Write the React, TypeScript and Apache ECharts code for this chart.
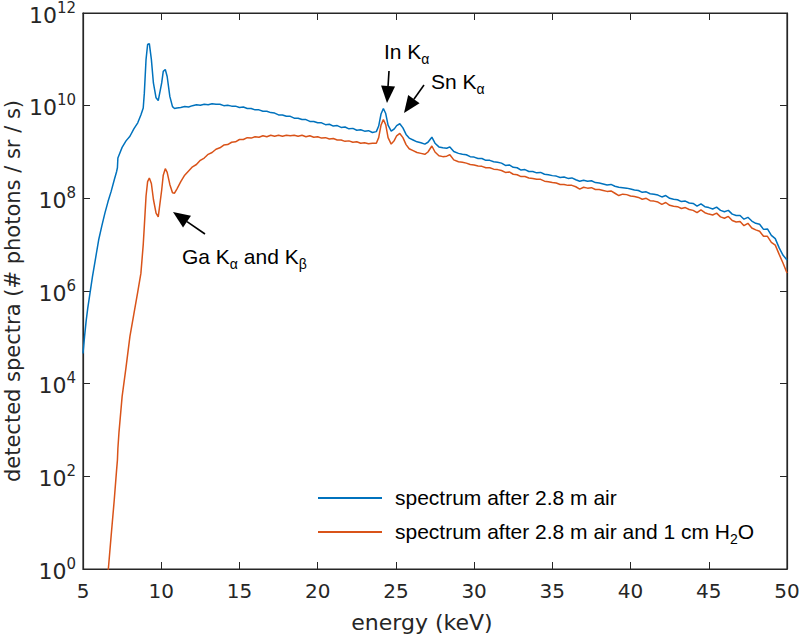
import React, { useEffect, useRef } from "react";
import * as echarts from "echarts";

// ---- data (energy in keV, spectra stored as log10 of photons / sr / s) ----
const energyA = [5.0, 5.1, 5.2, 5.3, 5.45, 5.6, 5.8, 6.0, 6.2, 6.4, 6.6, 6.8, 7.0, 7.15, 7.2, 7.23, 7.3, 7.5, 7.75, 8.0,
  8.25, 8.5, 8.7, 8.85, 8.92, 9.03, 9.13, 9.24, 9.37, 9.5, 9.67, 9.81, 10.03, 10.13, 10.26, 10.38, 10.55, 10.72, 10.85, 11.0];
const airLogA = [4.65, 5.02, 5.35, 5.62, 5.96, 6.3, 6.7, 7.1, 7.4, 7.68, 7.93, 8.15, 8.4, 8.58, 8.66, 8.87, 8.93, 9.1, 9.24, 9.34,
  9.5, 9.63, 9.8, 9.95, 10.27, 11.0, 11.32, 11.34, 11.0, 10.49, 10.17, 10.11, 10.49, 10.74, 10.78, 10.63, 10.2, 9.98, 9.94, 9.95];
const waterLogA = [null, null, null, null, null, null, null, null, null, -0.9, -0.08, 0.72, 1.5, 2.15, 2.35, 2.6, 2.95, 3.72, 4.35, 5.02,
  5.5, 5.98, 6.38, 7.0, 7.4, 8.05, 8.36, 8.44, 8.32, 7.98, 7.68, 7.6, 8.18, 8.5, 8.64, 8.56, 8.3, 8.12, 8.11, 8.2];

const energyB = [11.25, 11.5, 11.75, 12.0, 12.25, 12.5, 12.75, 13.0, 13.25, 13.5,
  13.75, 14.0, 14.25, 14.5, 14.75, 15.0, 15.25, 15.5, 15.75, 16.0,
  16.25, 16.5, 16.75, 17.0, 17.25, 17.5, 17.75, 18.0, 18.25, 18.5,
  18.75, 19.0, 19.25, 19.5, 19.75, 20.0, 20.25, 20.5, 20.75, 21.0,
  21.25, 21.5, 21.75, 22.0, 22.25, 22.5, 22.75, 23.0, 23.25, 23.5];
const airLogB = [9.96, 9.98, 9.97, 10.0, 10.02, 10.01, 10.03, 10.02, 10.04, 10.03,
  10.03, 10.0, 10.01, 9.99, 9.99, 9.96, 9.97, 9.94, 9.94, 9.91,
  9.91, 9.88, 9.88, 9.85, 9.84, 9.8, 9.8, 9.77, 9.77, 9.73,
  9.73, 9.7, 9.7, 9.66, 9.66, 9.63, 9.63, 9.59, 9.6, 9.56,
  9.57, 9.53, 9.54, 9.5, 9.51, 9.47, 9.48, 9.45, 9.46, 9.42];
const waterLogB = [8.36, 8.5, 8.59, 8.68, 8.73, 8.82, 8.87, 8.95, 8.99, 9.06,
  9.09, 9.15, 9.16, 9.21, 9.22, 9.27, 9.27, 9.31, 9.3, 9.33,
  9.32, 9.35, 9.33, 9.36, 9.34, 9.36, 9.34, 9.36, 9.35, 9.36,
  9.34, 9.36, 9.33, 9.35, 9.32, 9.33, 9.3, 9.31, 9.28, 9.29,
  9.26, 9.26, 9.23, 9.24, 9.21, 9.22, 9.19, 9.2, 9.18, 9.19];

const energyC = [23.75, 23.9, 24.05, 24.2, 24.35, 24.5, 24.7, 24.9, 25.05, 25.25, 25.45, 25.65, 25.85,
  26.1, 26.35, 26.6, 26.85, 27.05, 27.3, 27.5, 27.75, 28.0, 28.25, 28.45, 28.7];
const airLogC = [9.44, 9.56, 9.82, 9.94, 9.83, 9.58, 9.45, 9.5, 9.57, 9.61, 9.52, 9.38, 9.3,
  9.26, 9.22, 9.2, 9.17, 9.21, 9.32, 9.19, 9.11, 9.09, 9.08, 9.11, 9.01];
const waterLogC = [9.19, 9.31, 9.58, 9.7, 9.59, 9.31, 9.17, 9.25, 9.35, 9.4, 9.31, 9.16, 9.07,
  9.03, 8.99, 8.97, 8.95, 9.0, 9.13, 9.0, 8.92, 8.9, 8.91, 8.94, 8.83];

const energyD = [29.0, 29.25, 29.5, 29.75, 30.0, 30.25, 30.5, 30.75, 31.0, 31.25, 31.5, 31.75,
  32.0, 32.25, 32.5, 32.75, 33.0, 33.25, 33.5, 33.75, 34.0, 34.25, 34.5, 34.75,
  35.0, 35.25, 35.5, 35.75, 36.0, 36.25, 36.5, 36.75, 37.0, 37.25, 37.5, 37.75,
  38.0, 38.25, 38.5, 38.75, 39.0, 39.25, 39.5, 39.75, 40.0, 40.25, 40.5, 40.75,
  41.0, 41.25, 41.5, 41.75, 42.0, 42.25, 42.5, 42.75, 43.0, 43.25, 43.5, 43.75,
  44.0, 44.25, 44.5, 44.75, 45.0, 45.25, 45.5, 45.75, 46.0, 46.25, 46.5, 46.75,
  47.0, 47.25, 47.5, 47.75, 48.0, 48.25, 48.5, 48.75, 49.0, 49.25, 49.5, 49.75, 50.0];
const airLogD = [8.97, 8.95, 8.94, 8.9, 8.89, 8.86, 8.86, 8.82, 8.82, 8.79, 8.78, 8.76,
  8.71, 8.72, 8.67, 8.66, 8.61, 8.62, 8.58, 8.58, 8.55, 8.56, 8.52, 8.51,
  8.49, 8.48, 8.45, 8.46, 8.43, 8.44, 8.4, 8.37, 8.39, 8.37, 8.38, 8.34,
  8.33, 8.31, 8.29, 8.3, 8.26, 8.24, 8.23, 8.22, 8.2, 8.18, 8.17, 8.13,
  8.14, 8.1, 8.09, 8.07, 8.03, 8.06, 8.0, 7.98, 7.97, 7.93, 7.94, 7.9,
  7.89, 7.83, 7.88, 7.82, 7.8, 7.77, 7.81, 7.74, 7.71, 7.74, 7.66, 7.63,
  7.63, 7.55, 7.59, 7.51, 7.46, 7.44, 7.33, 7.34, 7.2, 7.13, 6.93, 6.77, 6.67];
const waterLogD = [8.79, 8.78, 8.76, 8.73, 8.72, 8.7, 8.69, 8.66, 8.66, 8.63, 8.62, 8.6,
  8.56, 8.57, 8.52, 8.51, 8.47, 8.47, 8.44, 8.43, 8.41, 8.41, 8.37, 8.36,
  8.34, 8.33, 8.3, 8.3, 8.28, 8.28, 8.25, 8.2, 8.24, 8.22, 8.23, 8.19,
  8.19, 8.17, 8.15, 8.16, 8.11, 8.06, 8.09, 8.08, 8.05, 8.04, 8.02, 7.98,
  8.0, 7.95, 7.94, 7.92, 7.87, 7.91, 7.85, 7.83, 7.82, 7.78, 7.8, 7.76,
  7.74, 7.69, 7.75, 7.69, 7.66, 7.64, 7.68, 7.6, 7.57, 7.61, 7.52, 7.49,
  7.5, 7.41, 7.46, 7.36, 7.32, 7.29, 7.18, 7.18, 7.05, 6.99, 6.79, 6.6, 6.39];

const seriesNames = ["spectrum after 2.8 m air", "spectrum after 2.8 m air and 1 cm H2O"];
const xTickValues = [5, 10, 15, 20, 25, 30, 35, 40, 45, 50];
const yTitle = "detected spectra (# photons / sr / s)";

const BLUE = "#0072BD";
const ORANGE = "#D95319";
const AX = "#262626";

function toPairs(energies: number[], logs: (number | null)[]) {
  const out: [number, number][] = [];
  energies.forEach((e, i) => {
    const v = logs[i];
    if (v !== null && v !== undefined) out.push([e, Math.pow(10, v)]);
  });
  return out;
}

function arrow(x1: number, y1: number, x2: number, y2: number) {
  const dx = x2 - x1, dy = y2 - y1;
  const len = Math.sqrt(dx * dx + dy * dy);
  const ux = dx / len, uy = dy / len;
  const hl = 17, hw = 7;
  const bx = x2 - ux * hl, by = y2 - uy * hl;
  const px = -uy, py = ux;
  return [
    { type: "line", shape: { x1, y1, x2: bx, y2: by }, style: { stroke: "#000", lineWidth: 1.6 } },
    {
      type: "polygon",
      shape: { points: [[x2, y2], [bx + px * hw, by + py * hw], [bx - px * hw, by - py * hw]] },
      style: { fill: "#000" },
    },
  ];
}

export default function App() {
  const ref = useRef<HTMLDivElement>(null);
  useEffect(() => {
    if (!ref.current) return;
    const chart = echarts.init(ref.current, undefined, { renderer: "svg" });
    const energy = [...energyA, ...energyB, ...energyC, ...energyD];
    const airData = toPairs(energy, [...airLogA, ...airLogB, ...airLogC, ...airLogD]);
    const waterData = toPairs(energy, [...waterLogA, ...waterLogB, ...waterLogC, ...waterLogD]);

    const subRich = {
      m: { fontFamily: "Liberation Sans", fontSize: 21, color: "#000", lineHeight: 25, verticalAlign: "top" },
      s: { fontFamily: "Liberation Sans", fontSize: 14, color: "#000", lineHeight: 14, verticalAlign: "bottom" },
    };

    const xAxisBase = {
      type: "value",
      min: 5,
      max: 50,
      interval: 5,
      splitLine: { show: false },
      axisLine: { show: true, onZero: false, lineStyle: { color: AX, width: 1.2 } },
      axisTick: { show: true, inside: true, length: 7, lineStyle: { color: AX } },
    };
    const yAxisBase = {
      type: "log",
      logBase: 10,
      min: 1,
      max: 1e12,
      interval: 2,
      splitLine: { show: false },
      minorTick: { show: false },
      axisLine: { show: true, onZero: false, lineStyle: { color: AX, width: 1.2 } },
      axisTick: { show: true, inside: true, length: 7, lineStyle: { color: AX } },
    };

    chart.setOption({
      animation: false,
      backgroundColor: "#fff",
      grid: {
        left: 83, right: 12, top: 13, bottom: 67,
        containLabel: false,
        outerBoundsMode: "none",
        show: true, borderColor: AX, borderWidth: 1.2, backgroundColor: "transparent",
      },
      xAxis: [
        {
          ...xAxisBase,
          position: "bottom",
          name: "energy (keV)",
          nameLocation: "middle",
          nameGap: 42,
          nameTextStyle: { fontFamily: "DejaVu Sans", fontSize: 22, color: AX, padding: [0, 26, 0, 0] },
          axisLabel: {
            show: true,
            margin: 12,
            fontFamily: "DejaVu Sans",
            fontSize: 20,
            color: AX,
            formatter: (v: number) => (xTickValues.includes(v) ? String(v) : ""),
          },
        },
        { ...xAxisBase, position: "top", axisLabel: { show: false } },
      ],
      yAxis: [
        {
          ...yAxisBase,
          position: "left",
          axisLabel: {
            show: true,
            margin: 7,
            formatter: (v: number) => `{b|10}{s|${Math.round(Math.log10(v))}}`,
            rich: {
              b: { fontFamily: "DejaVu Sans", fontSize: 22, color: AX, lineHeight: 26, padding: [5, 0, 0, 0], verticalAlign: "bottom" },
              s: { fontFamily: "DejaVu Sans", fontSize: 15, color: AX, lineHeight: 17, verticalAlign: "top" },
            },
          },
        },
        { ...yAxisBase, position: "right", axisLabel: { show: false } },
      ],
      legend: {
        orient: "vertical",
        left: 313,
        top: 482,
        itemWidth: 64,
        itemHeight: 2,
        itemGap: 13,
        icon: "rect",
        data: seriesNames,
        formatter: (name: string) => (name === seriesNames[1] ? "{t|spectrum after 2.8 m air and 1 cm H}{u|2}{t|O}" : `{t|${name}}`),
        textStyle: {
          padding: [0, 0, 0, 8],
          rich: {
            t: { fontFamily: "Liberation Sans", fontSize: 21, color: "#000", lineHeight: 22, verticalAlign: "top" },
            u: { fontFamily: "Liberation Sans", fontSize: 14, color: "#000", lineHeight: 14, verticalAlign: "bottom", padding: [0, 0, -3, 0] },
          },
        },
      },
      series: [
        {
          name: seriesNames[0],
          type: "line",
          data: airData,
          showSymbol: false,
          clip: true,
          lineStyle: { color: BLUE, width: 1.5 },
          itemStyle: { color: BLUE },
        },
        {
          name: seriesNames[1],
          type: "line",
          data: waterData,
          showSymbol: false,
          clip: true,
          lineStyle: { color: ORANGE, width: 1.5 },
          itemStyle: { color: ORANGE },
        },
        {
          name: "frame",
          type: "line",
          xAxisIndex: 1,
          yAxisIndex: 1,
          data: [],
          showSymbol: false,
          silent: true,
        },
      ],
      graphic: [
        {
          type: "text",
          x: 13,
          y: 291,
          rotation: Math.PI / 2,
          style: {
            text: yTitle,
            font: "21px 'DejaVu Sans'",
            fill: AX,
            align: "center",
            verticalAlign: "middle",
          },
        },
        {
          type: "text",
          x: 384,
          y: 53,
          style: { text: "{m|In K}{s|α}", rich: subRich, verticalAlign: "middle", align: "left" },
        },
        {
          type: "text",
          x: 431,
          y: 83,
          style: { text: "{m|Sn K}{s|α}", rich: subRich, verticalAlign: "middle", align: "left" },
        },
        {
          type: "text",
          x: 182,
          y: 258,
          style: { text: "{m|Ga K}{s|α}{m| and K}{s|β}", rich: subRich, verticalAlign: "middle", align: "left" },
        },
        ...arrow(389, 71, 387, 103),
        ...arrow(424, 85, 404, 113),
        ...arrow(205, 234, 173, 212),
      ],
    });
    return () => chart.dispose();
  }, []);
  return (
    <div
      ref={ref}
      style={{ position: "fixed", left: 0, top: 0, width: 799, height: 636, background: "#fff" }}
    />
  );
}
